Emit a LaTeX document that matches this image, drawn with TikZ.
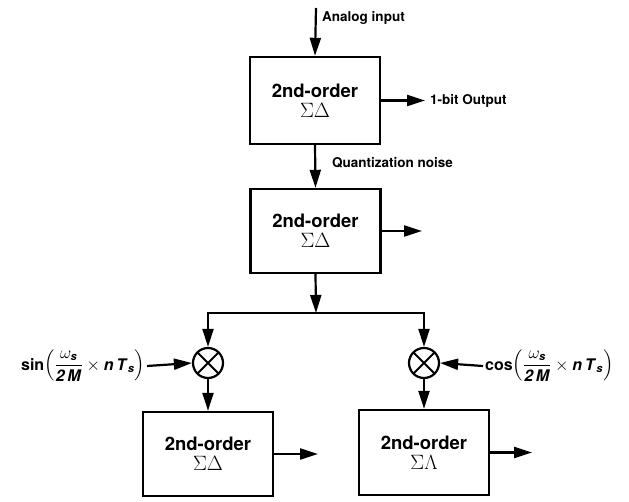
\documentclass[tikz,border=0pt]{standalone}
\usepackage{amsmath}
\usepackage{fontspec}
\setmainfont{TeX Gyre Heros}
\usetikzlibrary{positioning,arrows.meta}
\newcommand{\vb}[1]{\textbf{\textit{#1}}}
\newcommand{\sdlabel}[1]{2nd-order\\[-1pt]{\fontsize{20}{22}\selectfont\mdseries$#1$}}
\tikzset{
  sdbox/.style={draw,line width=2.4pt,minimum width=130pt,minimum height=84pt,align=center,inner sep=0pt,font=\fontsize{18.5}{21}\selectfont\bfseries},
  mixer/.style={circle,draw,line width=2.2pt,minimum size=30pt,inner sep=0pt,
    path picture={\draw[line width=2pt] (path picture bounding box.north west) -- (path picture bounding box.south east)
      (path picture bounding box.north east) -- (path picture bounding box.south west);}},
  arr/.style={line width=2.2pt,-{Triangle[length=18pt,width=11pt]}},
  lbl/.style={inner sep=1pt,font=\fontsize{13.5}{16}\selectfont\bfseries},
  frm/.style={inner sep=2pt,font=\fontsize{16}{19}\selectfont\bfseries}
}
\begin{document}
\begin{tikzpicture}[x=1pt,y=-1pt]
\useasboundingbox (0,0) rectangle (629,502);
\node[sdbox,minimum height=87pt] (box1) at (315,100.5) {\sdlabel{\Sigma\Delta}};
\node[sdbox] (box2) at (315.5,231) {\sdlabel{\Sigma\Delta}};
\node[sdbox] (box3) at (208,454) {\sdlabel{\Sigma\Delta}};
\node[sdbox,minimum height=85pt] (box4) at (424,452.5) {\sdlabel{\Sigma\Lambda}};
\node[mixer] (mix1) at (208,363) {};
\node[mixer] (mix2) at (424,363) {};
\coordinate (ain) at (316,8);
\coordinate (out1) at (425,100.5);
\coordinate (out2) at (422,231);
\coordinate (out3) at (318,454);
\coordinate (out4) at (532,452.5);
\coordinate (split) at (316,313);
\node[lbl,anchor=west] (ainlbl) at (321,18) {Analog input};
\node[lbl,anchor=west] (outlbl) at (429,100.5) {1-bit Output};
\node[lbl,anchor=west] (qnlbl) at (331,163) {Quantization noise};
\node[frm,anchor=east] (sinlbl) at (147,366) {sin$\left(\dfrac{\omega_{\vb{s}}}{\vb{2\,M}}\times \vb{n\,T}_{\vb{s}}\right)$};
\node[frm,anchor=west] (coslbl) at (483,366) {cos$\left(\dfrac{\omega_{\vb{s}}}{\vb{2\,M}}\times \vb{n\,T}_{\vb{s}}\right)$};
\draw[arr] (ain) -- (box1.north);
\draw[arr] (box1.east) -- (out1);
\draw[arr] (box1.south) -- (box2.north);
\draw[arr] (box2.east) -- (out2);
\draw[arr] (box2.south) -- (split);
\draw[arr] (split) -| (mix1.north);
\draw[arr] (split) -| (mix2.north);
\draw[arr] (sinlbl.east) -- (mix1.west);
\draw[arr] (coslbl.west) -- (mix2.east);
\draw[arr] (mix1.south) -- (box3.north);
\draw[arr] (mix2.south) -- (box4.north);
\draw[arr] (box3.east) -- (out3);
\draw[arr] (box4.east) -- (out4);
\end{tikzpicture}
\end{document}
